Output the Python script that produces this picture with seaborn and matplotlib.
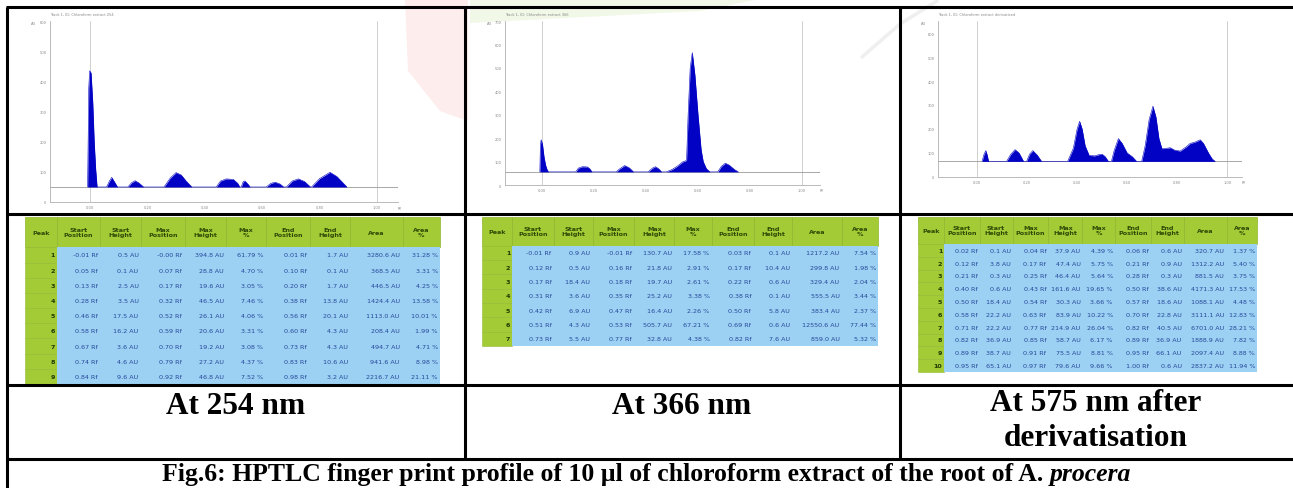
import numpy as np
import pandas as pd
import matplotlib
matplotlib.use('Agg')
import matplotlib.pyplot as plt
import seaborn as sns

W, H = 1293, 489

# ---- densitogram traces (Rf, AU) ----
rf_254 = [-0.008, -0.004, -0.001, 0.004, 0.010, 0.015, 0.020, 0.025,
          0.058, 0.068, 0.076, 0.085, 0.096,
          0.132, 0.145, 0.157, 0.170, 0.187,
          0.258, 0.280, 0.300, 0.318, 0.335, 0.355,
          0.440, 0.455, 0.475, 0.500, 0.515, 0.522,
          0.527, 0.534, 0.540, 0.550, 0.558,
          0.614, 0.630, 0.645, 0.662, 0.675,
          0.684, 0.705, 0.726, 0.748, 0.768,
          0.772, 0.800, 0.836, 0.860, 0.880, 0.895]
au_254 = [50, 380, 437, 430, 330, 200, 110, 50,
          50, 70, 82, 68, 50,
          50, 64, 71, 64, 50,
          50, 80, 98, 90, 70, 50,
          50, 70, 77, 75, 62, 50,
          50, 68, 70, 60, 50,
          50, 62, 66, 60, 50,
          50, 70, 77, 68, 50,
          50, 78, 99, 85, 65, 50]
base_254 = 50

rf_366 = [-0.008, -0.006, -0.003, 0.002, 0.008, 0.014, 0.020, 0.025,
          0.130, 0.140, 0.155, 0.175, 0.185, 0.192,
          0.285, 0.300, 0.318, 0.335, 0.352,
          0.408, 0.425, 0.436, 0.448, 0.460,
          0.478, 0.500, 0.520, 0.540, 0.556, 0.562, 0.570, 0.578, 0.588,
          0.600, 0.612, 0.620, 0.632, 0.646,
          0.676, 0.690, 0.705, 0.720, 0.740, 0.755]
au_366 = [56, 170, 193, 175, 120, 85, 65, 56,
          56, 72, 78, 77, 68, 56,
          56, 70, 83, 74, 56,
          56, 72, 78, 70, 56,
          56, 66, 80, 98, 105, 300, 500, 565, 470,
          300, 150, 100, 70, 56,
          56, 80, 93, 85, 66, 56]
base_366 = 56

rf_575 = [0.020, 0.028, 0.035, 0.041, 0.046,
          0.118, 0.135, 0.152, 0.168, 0.186,
          0.198, 0.210, 0.223, 0.240, 0.258,
          0.362, 0.385, 0.400, 0.410, 0.420, 0.432, 0.448, 0.470, 0.490,
          0.500, 0.512, 0.525,
          0.537, 0.548, 0.565, 0.580, 0.600, 0.620, 0.638,
          0.658, 0.672, 0.688, 0.703, 0.715, 0.727, 0.739, 0.760, 0.772,
          0.790, 0.812, 0.835, 0.852, 0.870, 0.892, 0.905, 0.925, 0.940, 0.952]
au_575 = [65, 95, 110, 90, 65,
          65, 95, 114, 100, 65,
          65, 95, 110, 92, 65,
          65, 120, 200, 232, 200, 130, 90, 88, 94,
          95, 85, 65,
          65, 110, 160, 140, 100, 85, 65,
          65, 130, 240, 295, 250, 160, 118, 120, 122,
          112, 108, 125, 140, 145, 155, 140, 100, 75, 65]
base_575 = 65

# ---- peak tables ----
table_header = ['Peak', 'Start\nPosition', 'Start\nHeight', 'Max\nPosition', 'Max\nHeight',
                'Max\n%', 'End\nPosition', 'End\nHeight', 'Area', 'Area\n%']

rows_254 = [
    ['-0.01 Rf', '0.5 AU', '-0.00 Rf', '394.8 AU', '61.79 %', '0.01 Rf', '1.7 AU', '3280.6 AU', '31.28 %'],
    ['0.05 Rf', '0.1 AU', '0.07 Rf', '28.8 AU', '4.70 %', '0.10 Rf', '0.1 AU', '368.5 AU', '3.31 %'],
    ['0.13 Rf', '2.5 AU', '0.17 Rf', '19.6 AU', '3.05 %', '0.20 Rf', '1.7 AU', '446.5 AU', '4.25 %'],
    ['0.28 Rf', '3.5 AU', '0.32 Rf', '46.5 AU', '7.46 %', '0.38 Rf', '13.8 AU', '1424.4 AU', '13.58 %'],
    ['0.46 Rf', '17.5 AU', '0.52 Rf', '26.1 AU', '4.06 %', '0.56 Rf', '20.1 AU', '1113.0 AU', '10.01 %'],
    ['0.58 Rf', '16.2 AU', '0.59 Rf', '20.6 AU', '3.31 %', '0.60 Rf', '4.3 AU', '208.4 AU', '1.99 %'],
    ['0.67 Rf', '3.6 AU', '0.70 Rf', '19.2 AU', '3.08 %', '0.73 Rf', '4.3 AU', '494.7 AU', '4.71 %'],
    ['0.74 Rf', '4.6 AU', '0.79 Rf', '27.2 AU', '4.37 %', '0.83 Rf', '10.6 AU', '941.6 AU', '8.98 %'],
    ['0.84 Rf', '9.6 AU', '0.92 Rf', '46.8 AU', '7.52 %', '0.98 Rf', '3.2 AU', '2216.7 AU', '21.11 %'],
]
rows_366 = [
    ['-0.01 Rf', '0.9 AU', '-0.01 Rf', '130.7 AU', '17.58 %', '0.03 Rf', '0.1 AU', '1217.2 AU', '7.54 %'],
    ['0.12 Rf', '0.5 AU', '0.16 Rf', '21.8 AU', '2.91 %', '0.17 Rf', '10.4 AU', '299.8 AU', '1.98 %'],
    ['0.17 Rf', '18.4 AU', '0.18 Rf', '19.7 AU', '2.61 %', '0.22 Rf', '0.6 AU', '329.4 AU', '2.04 %'],
    ['0.31 Rf', '3.6 AU', '0.35 Rf', '25.2 AU', '3.38 %', '0.38 Rf', '0.1 AU', '555.5 AU', '3.44 %'],
    ['0.42 Rf', '6.9 AU', '0.47 Rf', '16.4 AU', '2.26 %', '0.50 Rf', '5.8 AU', '383.4 AU', '2.37 %'],
    ['0.51 Rf', '4.3 AU', '0.53 Rf', '505.7 AU', '67.21 %', '0.69 Rf', '0.6 AU', '12550.6 AU', '77.44 %'],
    ['0.73 Rf', '5.5 AU', '0.77 Rf', '32.8 AU', '4.38 %', '0.82 Rf', '7.6 AU', '859.0 AU', '5.32 %'],
]
rows_575 = [
    ['0.02 Rf', '0.1 AU', '0.04 Rf', '37.9 AU', '4.39 %', '0.06 Rf', '0.6 AU', '320.7 AU', '1.37 %'],
    ['0.12 Rf', '3.8 AU', '0.17 Rf', '47.4 AU', '5.75 %', '0.21 Rf', '0.9 AU', '1312.2 AU', '5.40 %'],
    ['0.21 Rf', '0.3 AU', '0.25 Rf', '46.4 AU', '5.64 %', '0.28 Rf', '0.3 AU', '881.5 AU', '3.75 %'],
    ['0.40 Rf', '0.6 AU', '0.43 Rf', '161.6 AU', '19.65 %', '0.50 Rf', '38.6 AU', '4171.3 AU', '17.53 %'],
    ['0.50 Rf', '18.4 AU', '0.54 Rf', '30.3 AU', '3.66 %', '0.57 Rf', '18.6 AU', '1088.1 AU', '4.48 %'],
    ['0.58 Rf', '22.2 AU', '0.63 Rf', '83.9 AU', '10.22 %', '0.70 Rf', '22.8 AU', '3111.1 AU', '12.83 %'],
    ['0.71 Rf', '22.2 AU', '0.77 Rf', '214.9 AU', '26.04 %', '0.82 Rf', '40.5 AU', '6701.0 AU', '28.21 %'],
    ['0.82 Rf', '36.9 AU', '0.85 Rf', '58.7 AU', '6.17 %', '0.89 Rf', '36.9 AU', '1888.9 AU', '7.82 %'],
    ['0.89 Rf', '38.7 AU', '0.91 Rf', '75.5 AU', '8.81 %', '0.95 Rf', '66.1 AU', '2097.4 AU', '8.88 %'],
    ['0.95 Rf', '65.1 AU', '0.97 Rf', '79.6 AU', '9.66 %', '1.00 Rf', '0.6 AU', '2837.2 AU', '11.94 %'],
]

panel_labels = ['At 254 nm', 'At 366 nm', 'At 575 nm after\nderivatisation']
track_titles = ['Track 1, ID: Chloroform extract 254',
                'Track 1, ID: Chloroform extract 366',
                'Track 1, ID: Chloroform extract derivatised']
caption_main = 'Fig.6: HPTLC finger print profile of 10 \u00b5l of chloroform extract of the root of A. '
caption_ital = 'procera'

BLUE = '#0202C4'
GREEN = '#A2CB36'
LBLUE = '#9DD1F3'

sns.set_style('white')
plt.rcParams['font.family'] = ['DejaVu Sans']

fig = plt.figure(figsize=(W / 100, H / 100), dpi=100)


def px_box(x0, y0, x1, y1):
    return [x0 / W, 1 - y1 / H, (x1 - x0) / W, (y1 - y0) / H]


# faint page watermark behind everything
bg = fig.add_axes([0, 0, 1, 1])
bg.set_xlim(0, W)
bg.set_ylim(H, 0)
bg.axis('off')
bg.set_zorder(-5)
bg.fill([405, 468, 468, 440, 408], [0, 0, 122, 112, 72], color='#FDEDED', lw=0)
bg.fill([470, 760, 700, 470], [0, 0, 12, 24], color='#F1F8E8', lw=0)
bg.plot([862, 900, 937], [58, 25, 2], color='#EFEFEF', lw=2.5, solid_capstyle='round')


def draw_trace(box, rf, au, base, xlim, ylim, yticks, title):
    ax = fig.add_axes(px_box(*box))
    ax.patch.set_alpha(0)
    df = pd.DataFrame({'Rf': rf, 'AU': au})
    ax.fill_between(df['Rf'], base, df['AU'], color=BLUE, lw=0, zorder=3)
    sns.lineplot(data=df, x='Rf', y='AU', ax=ax, color=BLUE, lw=0.4,
                 estimator=None, sort=False, zorder=4)
    ax.axhline(base, color='#9A9A9A', lw=0.6, zorder=2)
    for v in (0.0, 1.0):
        ax.axvline(v, color='#C8C8C8', lw=0.6, zorder=1)
    ax.set_xlim(*xlim)
    ax.set_ylim(*ylim)
    ax.set_xticks([0.0, 0.2, 0.4, 0.6, 0.8, 1.0])
    ax.set_xticklabels(['0.00', '0.20', '0.40', '0.60', '0.80', '1.00'])
    ax.set_yticks(yticks)
    ax.tick_params(labelsize=2.6, colors='#8A8A8A', length=1.5, width=0.4, pad=1)
    ax.set_xlabel('')
    ax.set_ylabel('')
    for s in ('top', 'right'):
        ax.spines[s].set_visible(False)
    for s in ('left', 'bottom'):
        ax.spines[s].set_color('#B0B0B0')
        ax.spines[s].set_linewidth(0.6)
    ax.text(0.0, 1.03, title, transform=ax.transAxes, fontsize=2.6, color='#8A8A8A',
            ha='left', va='bottom')
    ax.text(-0.04, 1.0, 'AU', transform=ax.transAxes, fontsize=2.6, color='#8A8A8A',
            ha='right', va='top')
    ax.text(1.0, -0.02, 'Rf', transform=ax.transAxes, fontsize=2.6, color='#8A8A8A',
            ha='left', va='top')
    return ax


def draw_table(box, rows):
    ax = fig.add_axes(px_box(*box))
    ax.axis('off')
    cell_text = [table_header] + [[str(i + 1)] + r for i, r in enumerate(rows)]
    col_w = [0.72, 1.0, 0.92, 1.0, 0.95, 0.9, 1.0, 0.92, 1.2, 0.85]
    tb = ax.table(cellText=cell_text, colWidths=col_w, cellLoc='right', bbox=[0, 0, 1, 1])
    tb.auto_set_font_size(False)
    tb.set_fontsize(4.6)
    n = len(rows)
    hh = 1.0 / (n + 1)
    for (r, c), cell in tb.get_celld().items():
        cell.PAD = 0.06
        txt = cell.get_text()
        if r == 0:
            cell.set_height(hh * (2.0 if n < 10 else 2.1))
            cell.set_facecolor(GREEN)
            cell.set_edgecolor('#8FB62E')
            cell.set_linewidth(0.5)
            txt.set_ha('center')
            txt.set_fontweight('bold')
            txt.set_color('#2E4A06')
            txt.set_linespacing(1.0)
            cell._loc = 'center'
        elif c == 0:
            cell.set_height(hh)
            cell.set_facecolor(GREEN)
            cell.set_edgecolor('#93BA30')
            cell.set_linewidth(0.4)
            txt.set_color('#1F3A00')
            txt.set_fontweight('bold')
        else:
            cell.set_height(hh)
            cell.set_facecolor(LBLUE)
            cell.set_edgecolor(LBLUE)
            cell.set_linewidth(0)
            txt.set_color('#24479A')
    return ax


# densitograms
draw_trace((50, 22, 398, 203), rf_254, au_254, base_254, (-0.139, 1.073), (0, 603),
           [0, 100, 200, 300, 400, 500, 600], track_titles[0])
draw_trace((505, 22, 820, 186), rf_366, au_366, base_366, (-0.142, 1.069), (0, 700),
           [0, 100, 200, 300, 400, 500, 600, 700], track_titles[1])
draw_trace((938, 22, 1242, 178), rf_575, au_575, base_575, (-0.156, 1.059), (0, 650),
           [0, 100, 200, 300, 400, 500, 600], track_titles[2])

# peak tables
draw_table((25, 218, 440, 385), rows_254)
draw_table((482, 218, 878, 347), rows_366)
draw_table((918, 218, 1257, 373), rows_575)

# frame lines and captions on an overlay
ov = fig.add_axes([0, 0, 1, 1])
ov.set_xlim(0, W)
ov.set_ylim(H, 0)
ov.axis('off')
ov.patch.set_alpha(0)
ov.set_zorder(10)
lw = 2.2
for y in (8, 215, 386, 460):
    ov.plot([6, W], [y, y], color='black', lw=lw, solid_capstyle='butt')
ov.plot([7, 7], [8, H], color='black', lw=lw, solid_capstyle='butt')
for x in (465, 900):
    ov.plot([x, x], [8, 460], color='black', lw=lw, solid_capstyle='butt')

serif = ['Liberation Serif', 'DejaVu Serif']
label_pos = [(236, 407), (682, 407), (1096, 421)]
for (cx, cy), lab in zip(label_pos, panel_labels):
    ov.text(cx, cy, lab, ha='center', va='center', fontsize=22.5, fontweight='bold',
            family=serif, linespacing=1.3, color='black')

t1 = ov.text(0, 475, caption_main, ha='left', va='center', fontsize=18.5,
             fontweight='bold', family=serif, color='black')
t2 = ov.text(0, 475, caption_ital, ha='left', va='center', fontsize=18.5,
             fontweight='bold', fontstyle='italic', family=serif, color='black')
rend = fig.canvas.get_renderer()
w1 = t1.get_window_extent(rend).width
w2 = t2.get_window_extent(rend).width
x0 = 647 - (w1 + w2) / 2
t1.set_x(x0)
t2.set_x(x0 + w1)

fig.savefig('out.png', dpi=100)
